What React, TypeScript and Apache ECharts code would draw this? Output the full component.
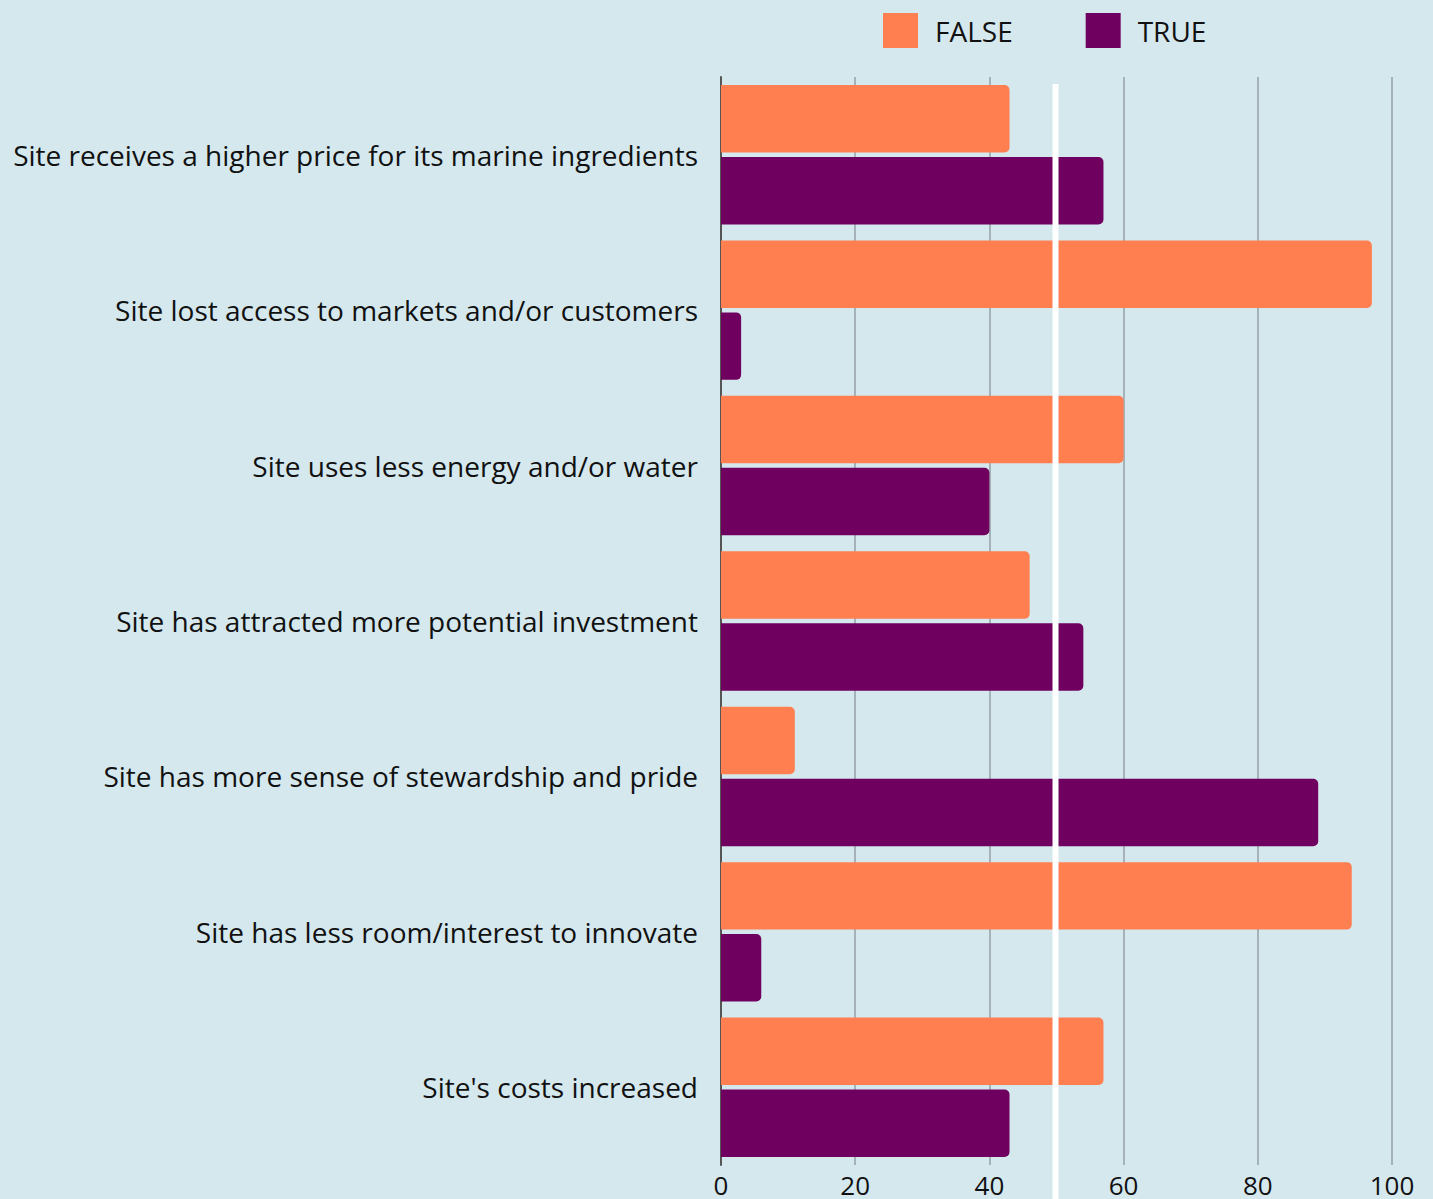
import React, { useEffect, useRef } from "react";
import * as echarts from "echarts";

const categories = [
  "Site receives a higher price for its marine ingredients",
  "Site lost access to markets and/or customers",
  "Site uses less energy and/or water",
  "Site has attracted more potential investment",
  "Site has more sense of stewardship and pride",
  "Site has less room/interest to innovate",
  "Site's costs increased",
];
const falseValues = [43, 97, 60, 46, 11, 94, 57];
const trueValues = [57, 3, 40, 54, 89, 6, 43];
const referenceValue = 50;

const FONT = "'Open Sans', Lato, 'Noto Sans', sans-serif";

export default function App() {
  const ref = useRef<HTMLDivElement>(null);
  useEffect(() => {
    if (!ref.current) return;
    const chart = echarts.init(ref.current, null, { renderer: "svg" });
    chart.setOption({
      animation: false,
      backgroundColor: "#D4E8EE",
      textStyle: { fontFamily: FONT },
      legend: {
        top: 8,
        left: 878,
        itemWidth: 35,
        itemHeight: 35,
        itemGap: 73,
        icon: "rect",
        textStyle: { fontSize: 28, color: "#111", fontFamily: FONT, padding: [0, 0, 0, 12] },
        data: ["FALSE", "TRUE"],
      },
      grid: { left: 721, right: 41, top: 77, bottom: 34, containLabel: false },
      xAxis: {
        type: "value",
        min: 0,
        max: 100,
        interval: 20,
        axisLine: { show: false },
        axisTick: { show: false },
        axisLabel: { fontSize: 26, color: "#111", margin: 7, fontFamily: FONT },
        splitLine: { show: true, lineStyle: { color: "#A5B3B8", width: 2 } },
      },
      yAxis: {
        type: "category",
        inverse: true,
        data: categories,
        axisLine: { show: true, lineStyle: { color: "#555", width: 2 } },
        axisTick: { show: false },
        axisLabel: { fontSize: 28, color: "#111", margin: 23, fontFamily: FONT, padding: [0, 0, 8, 0] },
      },
      series: [
        {
          name: "FALSE",
          type: "bar",
          data: falseValues,
          barGap: "6.7%",
          barCategoryGap: "10.3%",
          itemStyle: { color: "#FF7F50", borderRadius: [0, 5, 5, 0] },
        },
        {
          name: "TRUE",
          type: "bar",
          data: trueValues,
          barGap: "6.7%",
          barCategoryGap: "10.3%",
          itemStyle: { color: "#700060", borderRadius: [0, 5, 5, 0] },
        },
      ],
    });
    const x = chart.convertToPixel({ xAxisIndex: 0 }, referenceValue) as number;
    chart.setOption({
      graphic: [
        {
          type: "line",
          z: 100,
          shape: { x1: x - 1, y1: 84, x2: x - 1, y2: 1199 },
          style: { stroke: "#FFFFFF", lineWidth: 6 },
        },
      ],
    });
    return () => chart.dispose();
  }, []);
  return (
    <div
      ref={ref}
      style={{ position: "fixed", left: 0, top: 0, width: 1433, height: 1199 }}
    />
  );
}
